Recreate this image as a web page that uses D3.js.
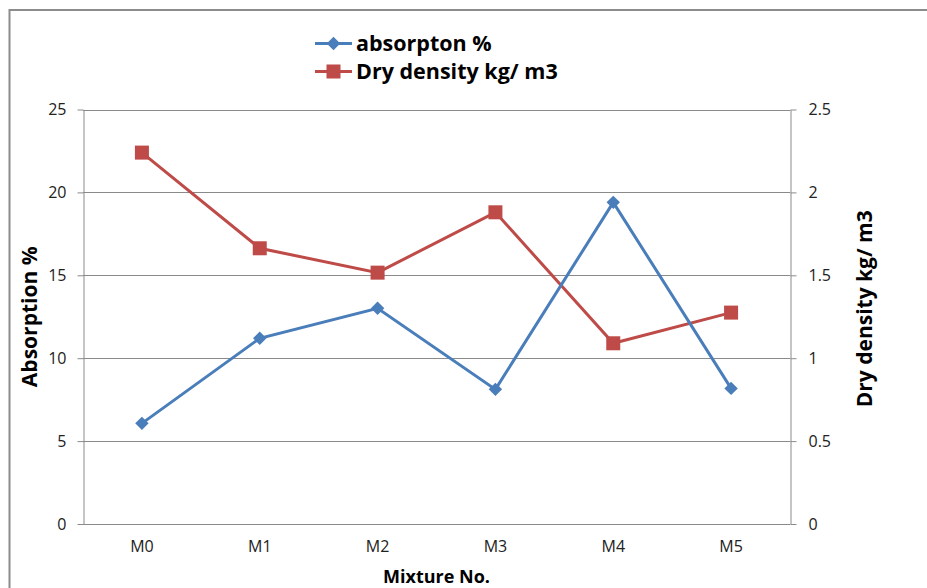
<!DOCTYPE html>
<html><head><meta charset="utf-8">
<script src="https://cdn.jsdelivr.net/npm/d3@7"></script>
<style>body{margin:0;background:#fff}svg{display:block}</style>
</head><body>
<script>
const categories = ["M0","M1","M2","M3","M4","M5"];
const absorption = [6.07, 11.2, 13.01, 8.12, 19.4, 8.18];
const dryDensity = [2.24, 1.663, 1.516, 1.88, 1.09, 1.275];
const leftTicks = [0,5,10,15,20,25];
const rightTicks = [0,0.5,1,1.5,2,2.5];
const seriesNames = ["absorpton %","Dry density kg/ m3"];

const W=927,H=588;
const font="'Open Sans', Lato, sans-serif";
const svg=d3.select("body").append("svg").attr("width",W).attr("height",H);
svg.append("rect").attr("x",9.5).attr("y",10).attr("width",940).attr("height",600)
  .attr("fill","none").attr("stroke","#8c8c8c").attr("stroke-width",2);

const L=83,R=790,T=109.5,B=524;
const x=d3.scaleBand().domain(categories).range([L,R]);
const yL=d3.scaleLinear().domain([0,25]).range([B,T]);
const yR=d3.scaleLinear().domain([0,2.5]).range([B,T]);
const grid="#8a8a8a";

svg.append("g").selectAll("line").data(leftTicks.filter(d=>d>0)).join("line")
  .attr("x1",L).attr("x2",R).attr("y1",d=>Math.round(yL(d))+0.5).attr("y2",d=>Math.round(yL(d))+0.5)
  .attr("stroke",grid).attr("stroke-width",1);

const gl=svg.append("g").attr("transform",`translate(${L+0.5},0)`)
  .call(d3.axisLeft(yL).tickValues(leftTicks).tickSize(6).tickPadding(11).tickSizeOuter(0));
const gr=svg.append("g").attr("transform",`translate(${R+0.5},0)`)
  .call(d3.axisRight(yR).tickValues(rightTicks).tickSize(6).tickPadding(12).tickSizeOuter(0)
  .tickFormat(d3.format("~g")));
const gb=svg.append("g").attr("transform",`translate(0,${B+0.5})`)
  .call(d3.axisBottom(x).tickSize(0).tickPadding(16).tickSizeOuter(0));
[gl,gr,gb].forEach(g=>{
  g.selectAll("path,line").attr("stroke",grid);
  g.selectAll("text").attr("font-family",font).attr("font-size",16).attr("fill","#222");
});
gb.select(".domain").attr("d",`M${L},0H${R}`);

const lineA=d3.line().x((d,i)=>x(categories[i])+x.bandwidth()/2).y(d=>yL(d));
const lineD=d3.line().x((d,i)=>x(categories[i])+x.bandwidth()/2).y(d=>yR(d));
const blue="#4a7ebb", red="#be4b48";
svg.append("path").attr("d",lineD(dryDensity)).attr("fill","none").attr("stroke",red).attr("stroke-width",3);
svg.append("path").attr("d",lineA(absorption)).attr("fill","none").attr("stroke",blue).attr("stroke-width",3);
svg.append("g").selectAll("rect").data(dryDensity).join("rect")
  .attr("x",(d,i)=>x(categories[i])+x.bandwidth()/2-7).attr("y",d=>yR(d)-7)
  .attr("width",14).attr("height",14).attr("fill",red);
svg.append("g").selectAll("path").data(absorption).join("path")
  .attr("d",d3.symbol(d3.symbolDiamond2,115)())
  .attr("transform",(d,i)=>`translate(${x(categories[i])+x.bandwidth()/2},${yL(d)})`)
  .attr("fill",blue);

svg.append("text").attr("transform",`translate(37,${(T+B)/2}) rotate(-90)`)
  .attr("text-anchor","middle").attr("font-family",font).attr("font-weight","bold")
  .attr("font-size",21).text("Absorption %");
svg.append("text").attr("transform",`translate(872,${(T+B)/2-8}) rotate(-90)`)
  .attr("text-anchor","middle").attr("font-family",font).attr("font-weight","bold")
  .attr("font-size",21).text("Dry density kg/ m3");
svg.append("text").attr("x",(L+R)/2).attr("y",583)
  .attr("text-anchor","middle").attr("font-family",font).attr("font-weight","bold")
  .attr("font-size",18).text("Mixture No.");

const leg=svg.append("g");
[0,1].forEach(i=>{
  const yy=i===0?43.5:71.5;
  const c=i===0?blue:red;
  leg.append("line").attr("x1",315).attr("x2",352).attr("y1",yy).attr("y2",yy).attr("stroke",c).attr("stroke-width",3);
  if(i===0) leg.append("path").attr("d",d3.symbol(d3.symbolDiamond2,115)()).attr("transform",`translate(333.5,${yy})`).attr("fill",c);
  else leg.append("rect").attr("x",326.5).attr("y",yy-7).attr("width",14).attr("height",14).attr("fill",c);
  leg.append("text").attr("x",356).attr("y",yy+7.5).attr("font-family",font).attr("font-weight","bold")
    .attr("font-size",21.5).text(seriesNames[i]);
});
</script>
</body></html>
